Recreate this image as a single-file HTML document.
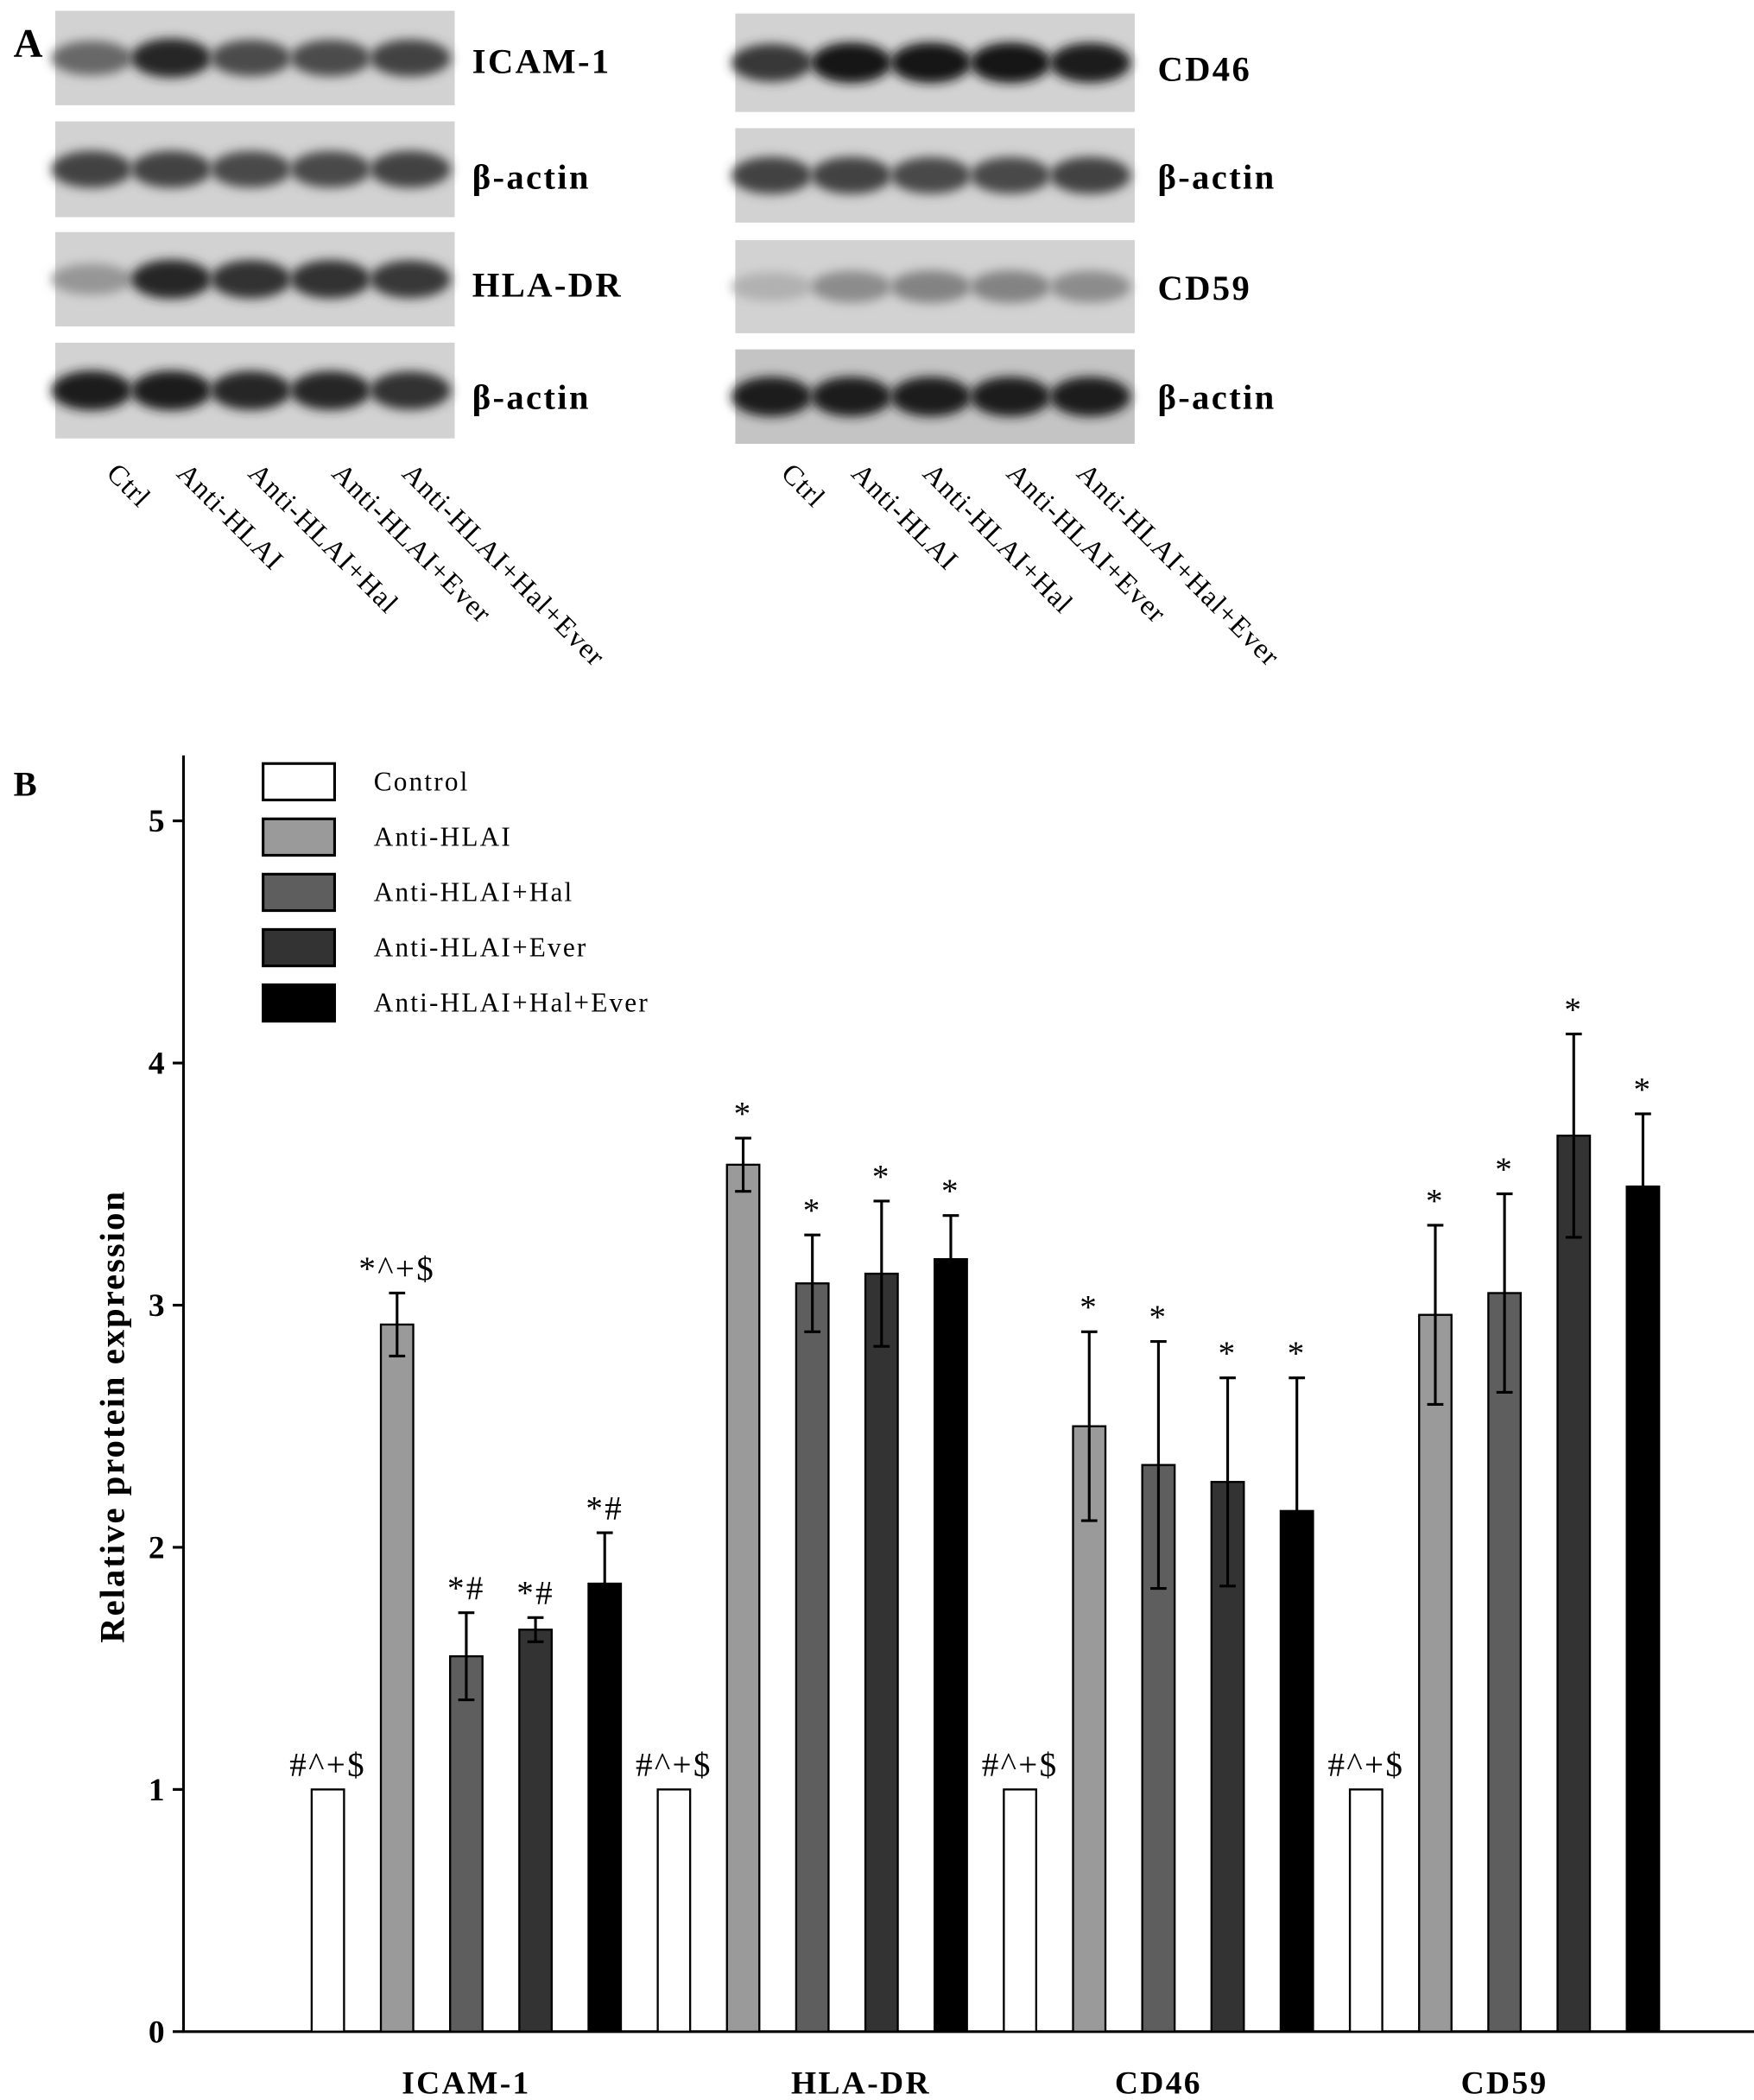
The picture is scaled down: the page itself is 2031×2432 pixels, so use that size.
<!DOCTYPE html>
<html><head><meta charset="utf-8"><style>
html,body{margin:0;padding:0;background:#fff}
svg{display:block}
text{font-family:"Liberation Serif",serif}
</style></head><body>
<svg id="fig" width="2031" height="2432" viewBox="0 0 1300 1556.7" preserveAspectRatio="none">
<defs><filter id="blur" x="-50%" y="-100%" width="200%" height="300%"><feGaussianBlur stdDeviation="4"/></filter></defs>
<text x="10" y="42" font-size="30" font-weight="bold">A</text>
<g id="blots"></g>
<text x="10" y="590" font-size="26" font-weight="bold">B</text>
<g id="chart"></g>
</svg>
<script>
const NS='http://www.w3.org/2000/svg';
function mk(tag,attrs,parent,txt){const e=document.createElementNS(NS,tag);for(const k in attrs)e.setAttribute(k,attrs[k]);if(txt!==undefined)e.textContent=txt;parent.appendChild(e);return e;}

// ---- Blots ----
const blotNames=['ICAM-1','β-actin','HLA-DR','β-actin','CD46','β-actin','CD59','β-actin'];
const blotIntensity=[[0.55,0.9,0.7,0.7,0.75],[0.75,0.75,0.72,0.72,0.75],[0.3,0.9,0.85,0.85,0.8],[0.95,0.95,0.9,0.9,0.85],
[0.8,1,1,1,0.95],[0.75,0.75,0.72,0.72,0.75],[0.15,0.35,0.4,0.4,0.35],[0.95,0.95,0.95,0.95,0.95]];
const laneNames=['Ctrl','Anti-HLAI','Anti-HLAI+Hal','Anti-HLAI+Ever','Anti-HLAI+Hal+Ever'];
const blotRows=[[8,78],[90,161],[172,242],[254,325],[10,83],[95,165],[178,247],[259,329]];
const labelY=[54,140,220,303,60,140,222,303];
const bg=document.getElementById('blots');
for(let i=0;i<8;i++){
  const right=i>=4, x0=right?545:41, [y0,y1]=blotRows[i];
  const r=mk('rect',{x:x0,y:y0,width:296,height:y1-y0,fill:i==7?'#c4c4c4':'#d2d2d2'},bg);
  
  
  const cy=(y0+y1)/2;
  for(let l=0;l<5;l++){
    const v=blotIntensity[i][l];const g=Math.round(205-185*v);
    const b=mk('ellipse',{cx:x0+27+l*59,cy:cy,rx:30,ry:10+5*v,fill:`rgb(${g},${g},${g})`,filter:'url(#blur)'},bg);
    
    
  }
  const t=mk('text',{x:right?858:350,y:labelY[i],'font-size':26,'font-weight':'bold','letter-spacing':1.5},bg,blotNames[i]);
  
  
}
const laneLX=[78,130,183,245,297];
for(let s=0;s<2;s++)for(let l=0;l<5;l++){
  const x=laneLX[l]+s*500,y=352;
  const t=mk('text',{x:x,y:y,'font-size':21,'letter-spacing':0.8,transform:`rotate(45 ${x} ${y})`},bg,laneNames[l]);
  
  
}

// ---- Chart data ----
const categories=['ICAM-1','HLA-DR','CD46','CD59'];
const seriesNames=['Control','Anti-HLAI','Anti-HLAI+Hal','Anti-HLAI+Ever','Anti-HLAI+Hal+Ever'];
const control=[1,1,1,1];
const antiHLAI=[2.92,3.58,2.50,2.96];
const antiHal=[1.55,3.09,2.34,3.05];
const antiEver=[1.66,3.13,2.27,3.70];
const antiHalEver=[1.85,3.19,2.15,3.49];
const errControl=[0,0,0,0];
const errAnti=[0.13,0.11,0.39,0.37];
const errHal=[0.18,0.20,0.51,0.41];
const errEver=[0.05,0.30,0.43,0.42];
const errHalEver=[0.21,0.18,0.55,0.30];
const marks=[['#^+$','*^+$','*#','*#','*#'],['#^+$','*','*','*','*'],['#^+$','*','*','*','*'],['#^+$','*','*','*','*']];
const yTicks=[0,1,2,3,4,5];
const colors=['#ffffff','#9a9a9a','#5e5e5e','#333333','#000000'];

const series=[control,antiHLAI,antiHal,antiEver,antiHalEver];
const errs=[errControl,errAnti,errHal,errEver,errHalEver];
const ch=document.getElementById('chart');
const y=v=>1506-v*179.5;
const xBar=(c,s)=>243+(c*5+s)*51.3;

const ax=mk('path',{d:'M136 560 V1506 H1300',stroke:'#000','stroke-width':2,fill:'none'},ch);


yTicks.forEach(t=>{
  const tk=mk('line',{x1:128,x2:136,y1:y(t),y2:y(t),stroke:'#000','stroke-width':2},ch);
  
  
  const tl=mk('text',{x:122,y:y(t)+8,'font-size':24,'font-weight':'bold','text-anchor':'end'},ch,String(t));
  
  
});
const yt=mk('text',{x:92,y:1050,'font-size':26,'font-weight':'bold','letter-spacing':1.3,'text-anchor':'middle',transform:'rotate(-90 92 1050)'},ch,'Relative protein expression');



categories.forEach((c,ci)=>{
  for(let s=0;s<5;s++){
    const v=series[s][ci],e=errs[s][ci],cx=xBar(ci,s);
    const r=mk('rect',{x:cx-12,y:y(v),width:24,height:y(0)-y(v),fill:colors[s],stroke:'#000','stroke-width':1.5},ch);
    
    
    if(e>0){
      const eb=mk('path',{d:`M${cx} ${y(v+e)} V${y(v-e)} M${cx-6} ${y(v+e)} H${cx+6} M${cx-6} ${y(v-e)} H${cx+6}`,stroke:'#000','stroke-width':2,fill:'none'},ch);
      
      
    }
    const m=mk('text',{x:cx,y:y(v+e)-10,'font-size':25,'letter-spacing':1.5,'text-anchor':'middle'},ch,marks[ci][s]);
    
    
  }
  const cl=mk('text',{x:xBar(ci,2)+(ci==1?36:0),y:1552,'font-size':24,'font-weight':'bold','letter-spacing':1.5,'text-anchor':'middle'},ch,c);
  
  
});

seriesNames.forEach((n,i)=>{
  const top=566+i*41;
  const b=mk('rect',{x:195,y:top,width:53,height:27,fill:colors[i],stroke:'#000','stroke-width':2},ch);
  
  
  const t=mk('text',{x:277,y:top+20,'font-size':20,'letter-spacing':1.4},ch,n);
  
  
});
</script>
</body></html>
